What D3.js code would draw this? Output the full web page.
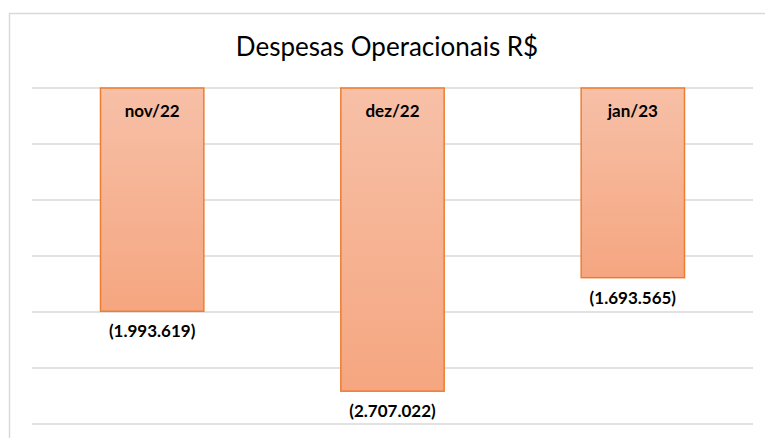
<!DOCTYPE html>
<html><head><meta charset="utf-8">
<script src="https://cdn.jsdelivr.net/npm/d3@7"></script>
<style>body{margin:0;background:#fff}svg{display:block}</style>
</head><body>
<svg id="c" width="765" height="438"></svg>
<script>
const categories = ["nov/22", "dez/22", "jan/23"];
const values = [-1993619, -2707022, -1693565];
const yTicks = [0, -500000, -1000000, -1500000, -2000000, -2500000, -3000000];
const title = "Despesas Operacionais R$";

const svg = d3.select("#c");
const W = 765, H = 438;
const m = {left: 32, right: 12, top: 88, bottom: 14};

// chart frame
svg.append("rect").attr("x", 9.5).attr("y", 13.5).attr("width", W).attr("height", H)
  .attr("fill", "#fff").attr("stroke", "#d9d9d9").attr("stroke-width", 1.5);

const x = d3.scaleBand().domain(categories).range([m.left, W - m.right]).paddingInner(0.57).paddingOuter(0.285);
const y = d3.scaleLinear().domain([0, -3000000]).range([m.top, 424]);

const defs = svg.append("defs");
const g = defs.append("linearGradient").attr("id", "grad").attr("x1", 0).attr("y1", 0).attr("x2", 0).attr("y2", 1);
g.append("stop").attr("offset", "0%").attr("stop-color", "#f7c0a7");
g.append("stop").attr("offset", "100%").attr("stop-color", "#f5a680");

// gridlines
svg.append("g").selectAll("line").data(yTicks).join("line")
  .attr("x1", m.left).attr("x2", W - m.right)
  .attr("y1", d => y(d)).attr("y2", d => y(d))
  .attr("stroke", "#d9d9d9").attr("stroke-width", 1.3);

// bars
svg.append("g").selectAll("rect").data(values).join("rect")
  .attr("x", (d, i) => x(categories[i]))
  .attr("y", d => y(0))
  .attr("width", x.bandwidth())
  .attr("height", d => y(d) - y(0))
  .attr("fill", "url(#grad)")
  .attr("stroke", "#ed7d31").attr("stroke-width", 1.5);

const font = "Lato, 'Open Sans', sans-serif";

// category labels inside bars
svg.append("g").selectAll("text").data(categories).join("text")
  .attr("x", d => x(d) + x.bandwidth() / 2)
  .attr("y", y(0) + 29)
  .attr("text-anchor", "middle")
  .attr("font-family", font).attr("font-weight", "bold").attr("font-size", 17)
  .attr("fill", "#000")
  .text(d => d);

// value labels
const fmt = v => {
  const s = Math.abs(v).toString().replace(/\B(?=(\d{3})+(?!\d))/g, ".");
  return v < 0 ? "(" + s + ")" : s;
};
svg.append("g").selectAll("text").data(values).join("text")
  .attr("x", (d, i) => x(categories[i]) + x.bandwidth() / 2)
  .attr("y", d => y(d) + 26)
  .attr("text-anchor", "middle")
  .attr("font-family", font).attr("font-weight", "bold").attr("font-size", 17)
  .attr("fill", "#000")
  .text(d => fmt(d));

// title
svg.append("text").attr("x", 387).attr("y", 56)
  .attr("text-anchor", "middle")
  .attr("font-family", font).attr("font-size", 26)
  .attr("fill", "#000")
  .text(title);
</script>
</body></html>
